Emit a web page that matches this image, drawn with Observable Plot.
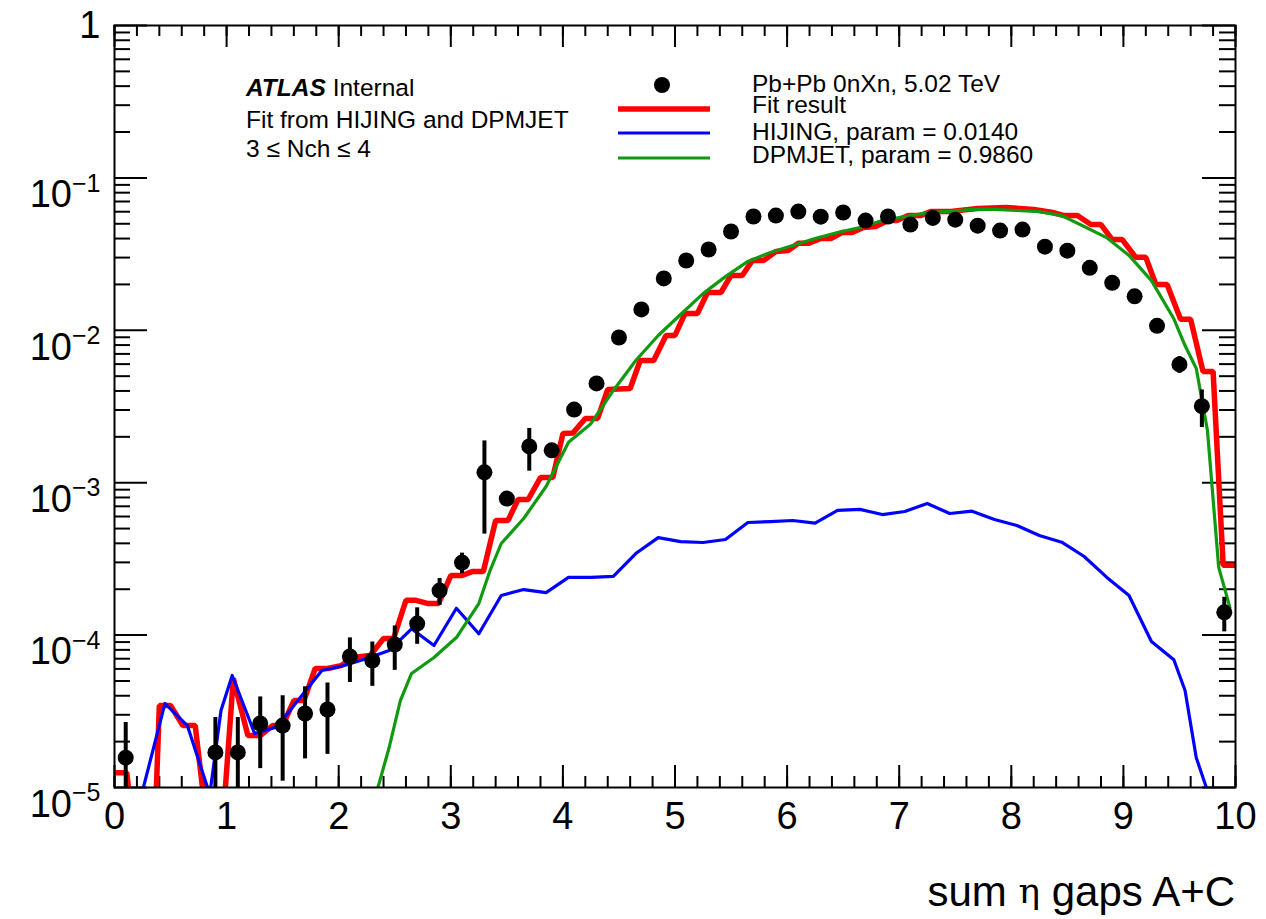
<!DOCTYPE html>
<html><head><meta charset="utf-8">
<script src="https://cdn.jsdelivr.net/npm/d3@7"></script>
<script src="https://cdn.jsdelivr.net/npm/@observablehq/plot@0.6"></script>
<style>
body{margin:0;background:#fff}
#chart{width:1266px;height:919px}
</style>
</head><body><div id="chart"></div>
<script>
// ---- data: Pb+Pb 0nXn points (bin centre, value, error)
const dataX = [0.1,0.9,1.1,1.3,1.5,1.7,1.9,2.1,2.3,2.5,2.7,2.9,3.1,3.3,3.5,3.7,3.9,4.1,4.3,4.5,4.7,4.9,5.1,5.3,5.5,5.7,5.9,6.1,6.3,6.5,6.7,6.9,7.1,7.3,7.5,7.7,7.9,8.1,8.3,8.5,8.7,8.9,9.1,9.3,9.5,9.7,9.9];
const dataY = [1.57e-5,1.70e-5,1.70e-5,2.63e-5,2.55e-5,3.06e-5,3.25e-5,7.24e-5,6.81e-5,8.67e-5,1.19e-4,1.96e-4,2.99e-4,1.17e-3,7.87e-4,1.73e-3,1.63e-3,3.02e-3,4.48e-3,8.97e-3,1.37e-2,2.19e-2,2.87e-2,3.39e-2,4.45e-2,5.58e-2,5.66e-2,6.01e-2,5.57e-2,5.93e-2,5.25e-2,5.58e-2,4.94e-2,5.46e-2,5.32e-2,4.86e-2,4.51e-2,4.58e-2,3.54e-2,3.33e-2,2.57e-2,2.05e-2,1.67e-2,1.07e-2,5.97e-3,3.18e-3,1.41e-4];
const dataErr = [1.1e-5,1.18e-5,1.18e-5,1.3e-5,1.45e-5,1.52e-5,1.6e-5,2.35e-5,2.2e-5,2.8e-5,3.2e-5,3.9e-5,4.6e-5,7.1e-4,5e-5,5.4e-4,1.5e-4,2.2e-4,2.6e-4,3.8e-4,4.8e-4,6e-4,7e-4,7.5e-4,8.5e-4,9.5e-4,9.6e-4,1e-3,9.5e-4,1e-3,9.3e-4,9.6e-4,9e-4,9.5e-4,9.4e-4,9e-4,8.6e-4,8.7e-4,7.6e-4,7.4e-4,6.5e-4,5.9e-4,5.3e-4,4.6e-4,7.5e-4,8.8e-4,3.6e-5];

// ---- fit result (red) polyline vertices
const fitX = [0.00,0.11,0.20,0.30,0.40,0.50,0.61,0.72,0.80,0.95,1.06,1.19,1.30,1.41,1.50,1.60,1.69,1.79,1.90,2.02,2.13,2.28,2.40,2.49,2.60,2.69,2.80,2.89,3.00,3.10,3.19,3.29,3.40,3.51,3.60,3.69,3.80,3.91,4.00,4.09,4.20,4.31,4.40,4.60,4.69,4.81,4.92,5.00,5.09,5.20,5.29,5.41,5.50,5.60,5.69,5.79,5.90,6.01,6.10,6.19,6.30,6.39,6.49,6.58,6.68,6.79,6.90,6.98,7.08,7.19,7.28,7.39,7.46,7.70,7.95,8.20,8.37,8.47,8.59,8.71,8.80,8.90,8.99,9.11,9.20,9.29,9.39,9.51,9.60,9.71,9.80,9.89,10.00];
const fitY = [1.25e-5,1.25e-5,3e-6,3e-7,3.45e-5,3.45e-5,2.55e-5,2.55e-5,8e-6,4e-6,5.2e-5,2.19e-5,2.19e-5,2.55e-5,2.55e-5,3.72e-5,3.72e-5,6.04e-5,6.04e-5,6.3e-5,7.13e-5,7.35e-5,9.5e-5,9.5e-5,1.69e-4,1.69e-4,1.61e-4,1.61e-4,2.46e-4,2.46e-4,2.61e-4,2.61e-4,5.65e-4,5.65e-4,7.76e-4,7.76e-4,1.08e-3,1.08e-3,2.10e-3,2.12e-3,2.64e-3,2.64e-3,4.09e-3,4.15e-3,6.34e-3,6.34e-3,9.25e-3,9.25e-3,1.29e-2,1.29e-2,1.77e-2,1.77e-2,2.29e-2,2.29e-2,2.87e-2,2.87e-2,3.29e-2,3.34e-2,3.72e-2,3.72e-2,4.00e-2,4.00e-2,4.38e-2,4.38e-2,4.73e-2,4.80e-2,5.25e-2,5.25e-2,5.66e-2,5.66e-2,6.01e-2,6.01e-2,6.03e-2,6.30e-2,6.40e-2,6.21e-2,5.93e-2,5.66e-2,5.66e-2,4.94e-2,4.94e-2,3.94e-2,3.94e-2,3.01e-2,3.01e-2,2.00e-2,2.00e-2,1.18e-2,1.18e-2,5.37e-3,5.37e-3,2.87e-4,2.87e-4];

// ---- HIJING (blue)
const hijingX = [0.25,0.45,0.65,0.85,0.95,1.05,1.25,1.45,1.65,1.85,2.05,2.25,2.45,2.65,2.85,3.05,3.25,3.45,3.65,3.85,4.05,4.25,4.45,4.65,4.85,5.05,5.25,5.45,5.65,5.85,6.05,6.25,6.45,6.65,6.85,7.05,7.25,7.45,7.65,7.85,8.05,8.25,8.45,8.65,8.85,9.05,9.25,9.45,9.55,9.65,9.75];
const hijingY = [9.5e-6,3.56e-5,2.55e-5,9e-6,3.2e-5,5.43e-5,2.26e-5,2.5e-5,3.84e-5,5.86e-5,6.32e-5,7.02e-5,7.92e-5,1.10e-4,8.55e-5,1.50e-4,1.02e-4,1.82e-4,1.99e-4,1.90e-4,2.39e-4,2.39e-4,2.43e-4,3.43e-4,4.36e-4,4.11e-4,4.05e-4,4.24e-4,5.48e-4,5.56e-4,5.65e-4,5.43e-4,6.58e-4,6.68e-4,6.18e-4,6.47e-4,7.31e-4,6.28e-4,6.50e-4,5.74e-4,5.24e-4,4.50e-4,4.07e-4,3.28e-4,2.40e-4,1.82e-4,9.08e-5,6.89e-5,4.33e-5,1.57e-5,9.5e-6];

// ---- DPMJET (green)
const dpmjetX = [2.25,2.35,2.45,2.55,2.65,2.85,3.05,3.25,3.35,3.45,3.65,3.85,4.05,4.25,4.45,4.65,4.85,5.05,5.25,5.45,5.65,5.85,6.05,6.25,6.45,6.65,6.85,7.05,7.25,7.45,7.65,7.85,8.05,8.25,8.45,8.65,8.85,9.05,9.25,9.45,9.55,9.65,9.75,9.85,9.95];
const dpmjetY = [1e-6,1.0e-5,1.83e-5,3.72e-5,5.6e-5,7.13e-5,9.64e-5,1.61e-4,2.65e-4,3.99e-4,5.82e-4,9.44e-4,1.84e-3,2.44e-3,4.03e-3,6.34e-3,9.25e-3,1.27e-2,1.74e-2,2.25e-2,2.83e-2,3.24e-2,3.60e-2,4.00e-2,4.38e-2,4.73e-2,5.25e-2,5.57e-2,5.91e-2,6.03e-2,6.21e-2,6.21e-2,6.11e-2,6.01e-2,5.66e-2,4.80e-2,4.06e-2,3.10e-2,2.12e-2,1.19e-2,7.94e-3,5.61e-3,2.2e-3,2.78e-4,1.52e-4];

// ---- ticks
const xMajor = [0,1,2,3,4,5,6,7,8,9,10];
const xMinor = d3.range(0, 10.001, 0.2).map(v => +v.toFixed(1));
const yMajor = [1e-5,1e-4,1e-3,1e-2,1e-1,1];
const yMinor = [1e-5,1e-4,1e-3,1e-2,1e-1].flatMap(d => [2,3,4,5,6,7,8,9].map(k => k*d));

// ---- legend texts
const legendLabels = ["Pb+Pb 0nXn, 5.02 TeV","Fit result","HIJING, param = 0.0140","DPMJET, param = 0.9860"];
const legendColors = ["#000000","#ff0000","#0000ff","#119911"];

const W = 1266, H = 919;
const mL = 114, mR = 31, mT = 25, mB = 132;
const fH = H - mT - mB, fW = W - mL - mR;
const FONT = "'Liberation Sans', Arial, Helvetica, sans-serif";

const pts = dataX.map((x,i) => ({x, y: dataY[i], lo: Math.max(dataY[i]-dataErr[i], 1e-8), hi: dataY[i]+dataErr[i]}));
const fit = fitX.map((x,i) => ({x, y: fitY[i]}));
const hij = hijingX.map((x,i) => ({x, y: hijingY[i]}));
const dpm = dpmjetX.map((x,i) => ({x, y: dpmjetY[i]}));

const plot = Plot.plot({
  width: W, height: H,
  marginLeft: mL, marginRight: mR, marginTop: mT, marginBottom: mB,
  style: {fontFamily: FONT, background: "#fff", color: "#000"},
  x: {domain: [0,10]},
  y: {type: "log", domain: [1e-5, 1]},
  marks: [
    Plot.tickX(xMinor, {x: d=>d, insetTop: fH-11, stroke:"#000", strokeWidth:2}),
    Plot.tickX(xMajor, {x: d=>d, insetTop: fH-22, stroke:"#000", strokeWidth:2}),
    Plot.tickX(xMinor, {x: d=>d, insetBottom: fH-11, stroke:"#000", strokeWidth:2}),
    Plot.tickX(xMajor, {x: d=>d, insetBottom: fH-22, stroke:"#000", strokeWidth:2}),
    Plot.tickY(yMinor, {y: d=>d, insetRight: fW-16, stroke:"#000", strokeWidth:2}),
    Plot.tickY(yMajor, {y: d=>d, insetRight: fW-33, stroke:"#000", strokeWidth:2}),
    Plot.tickY(yMinor, {y: d=>d, insetLeft: fW-16, stroke:"#000", strokeWidth:2}),
    Plot.tickY(yMajor, {y: d=>d, insetLeft: fW-33, stroke:"#000", strokeWidth:2}),
    Plot.axisX(xMajor, {tickSize: 0, tickPadding: 15, fontSize: 38, label: null, tickFormat: d => String(d)}),
    Plot.axisY(yMajor, {tickSize: 0, tickPadding: 14, fontSize: 38, label: null,
      tickFormat: d => d === 1 ? "1" : "10^" + Math.round(Math.log10(d))}),
    Plot.line(fit, {x:"x", y:"y", stroke:"#ff0000", strokeWidth:5.5, clip:true, strokeLinejoin:"miter"}),
    Plot.line(hij, {x:"x", y:"y", stroke:"#0000ff", strokeWidth:3.2, clip:true}),
    Plot.line(dpm, {x:"x", y:"y", stroke:"#119911", strokeWidth:3.2, clip:true}),
    Plot.ruleX(pts, {x:"x", y1:"lo", y2:"hi", stroke:"#000", strokeWidth:4, clip:true}),
    Plot.dot(pts, {x:"x", y:"y", r:8, fill:"#000", stroke:"none", clip:true}),
    Plot.frame({stroke:"#000", strokeWidth:2})
  ]
});

document.getElementById("chart").appendChild(plot);
const svg = d3.select(plot);

// superscript exponents on y tick labels
svg.selectAll('g[aria-label="y-axis tick label"] text').each(function() {
  const t = d3.select(this);
  const s = t.text();
  if (s.includes("^")) {
    const [base, ex] = s.split("^");
    t.text(base).attr("dy", "0.45em");
    t.append("tspan").attr("dy", "-0.62em").attr("font-size", 25).text(ex.replace("-", "\u2212"));
  }
});

// x-axis title
const xt = svg.append("text").attr("x", 1235).attr("y", 906).attr("text-anchor", "end")
  .attr("font-family", FONT).attr("font-size", 42).attr("fill", "#000");
xt.append("tspan").text("sum ");
xt.append("tspan").attr("font-family", "'DejaVu Serif', serif").attr("font-size", 36).attr("dy", -3).text("\u03b7");
xt.append("tspan").attr("dy", 3).text(" gaps A+C");

// left text block
const tb = svg.append("g").attr("font-family", FONT).attr("font-size", 24.5).attr("fill", "#000").attr("text-anchor", "start");
const l1 = tb.append("text").attr("x", 246).attr("y", 96);
l1.append("tspan").attr("font-weight", "bold").attr("font-style", "italic").text("ATLAS");
l1.append("tspan").text(" Internal");
tb.append("text").attr("x", 246).attr("y", 128).text("Fit from HIJING and DPMJET");
tb.append("text").attr("x", 246).attr("y", 157).text("3 \u2264 Nch \u2264 4");

// legend
const lg = svg.append("g").attr("font-family", FONT).attr("font-size", 24.5).attr("fill", "#000").attr("text-anchor", "start");
const rowY = [85, 109, 133, 158];
const rowBase = [92, 113, 140, 163];
legendLabels.forEach((lab, i) => {
  if (i === 0) {
    lg.append("circle").attr("cx", 662).attr("cy", rowY[i]).attr("r", 8).attr("fill", legendColors[i]);
  } else {
    lg.append("line").attr("x1", 618).attr("x2", 710).attr("y1", rowY[i]).attr("y2", rowY[i])
      .attr("stroke", legendColors[i]).attr("stroke-width", i === 1 ? 5.5 : 3.2);
  }
  lg.append("text").attr("x", 752).attr("y", rowBase[i]).text(lab);
});
</script>
</body></html>
